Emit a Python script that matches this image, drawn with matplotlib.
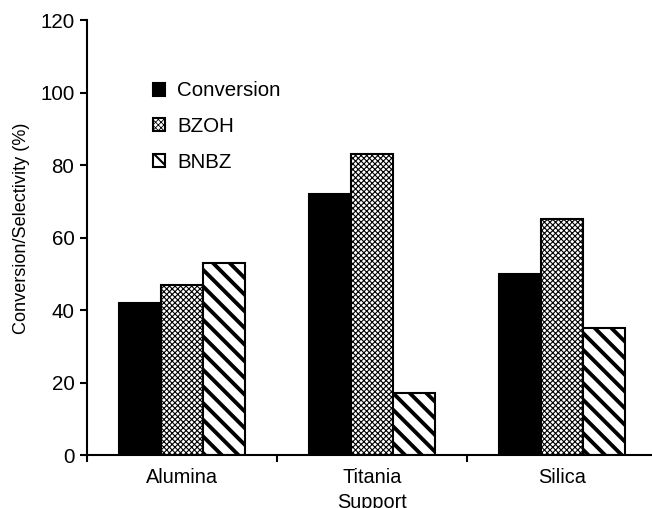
import numpy as np
import matplotlib
matplotlib.use('Agg')
import matplotlib.pyplot as plt

plt.rcParams['font.family'] = ['Liberation Sans', 'DejaVu Sans']

# data
supports = ['Alumina', 'Titania', 'Silica']
conversion = [42, 72, 50]
bzoh = [47, 83, 65]
bnbz = [53, 17, 35]

fig = plt.figure(figsize=(6.52, 5.08), dpi=100)
ax = fig.add_axes([0.1334, 0.1043, 0.874, 0.8563])

x = np.arange(len(supports))
w = 0.222

b1 = ax.bar(x - w, conversion, w, color='black', edgecolor='black', linewidth=1.5, label='Conversion')
b2 = ax.bar(x, bzoh, w, color='white', edgecolor='black', linewidth=1.5, hatch='xxxxxx', label='BZOH')
b3 = ax.bar(x + w, bnbz, w, color='white', edgecolor='black', linewidth=1.5, hatch='\\\\', label='BNBZ')

for p in b2:
    p.set_hatch_linewidth(0.8)
for p in b3:
    p.set_hatch_linewidth(2.8)

ax.set_xlim(-0.5, 2.5)
ax.set_ylim(0, 120)
ax.set_yticks([0, 20, 40, 60, 80, 100, 120])
ax.set_xticks(x)
ax.set_xticklabels(supports)
ax.set_xticks([-0.5, 0.5, 1.5, 2.5], minor=True)
ax.tick_params(axis='x', which='major', length=0, labelsize=14.3, pad=9)
ax.tick_params(axis='x', which='minor', length=5, width=1.5, direction='out')
ax.tick_params(axis='y', length=5, width=1.5, direction='out', labelsize=14.8, pad=4)

for s in ['top', 'right']:
    ax.spines[s].set_visible(False)
for s in ['left', 'bottom']:
    ax.spines[s].set_linewidth(1.5)

ax.set_xlabel('Support', fontsize=14.3, labelpad=5)
ax.set_ylabel('Conversion/Selectivity (%)', fontsize=13.1)
ax.yaxis.set_label_coords(-0.1, 0.522)

leg = ax.legend(frameon=False, fontsize=14.8, loc='upper left', bbox_to_anchor=(0.115, 0.859),
                handlelength=0.6, handleheight=0.6, labelspacing=0.82, handletextpad=0.6,
                borderaxespad=0, borderpad=0)
for h in leg.legend_handles:
    h.set_hatch_linewidth(0.6 if h.get_hatch() == 'xxxxxx' else 1.5)

fig.savefig('out.png', dpi=100)
